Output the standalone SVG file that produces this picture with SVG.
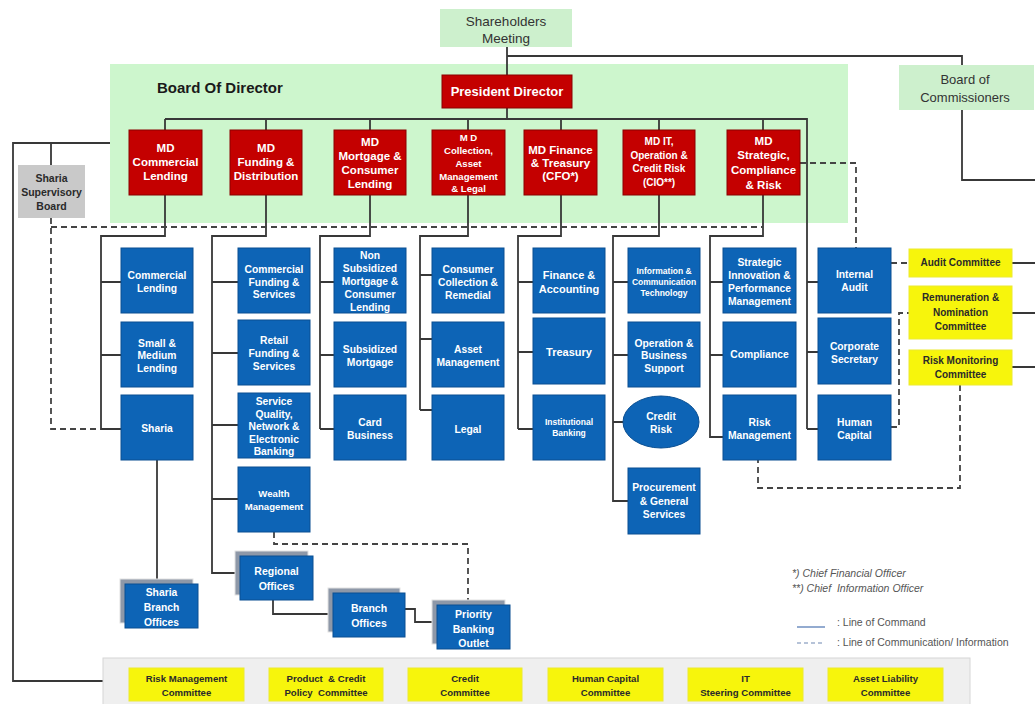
<svg xmlns="http://www.w3.org/2000/svg" width="1035" height="704" viewBox="0 0 1035 704">
<style>
.ln{stroke:#383838;stroke-width:1.8;fill:none}
.dl{stroke:#444;stroke-width:1.8;stroke-dasharray:6 4;fill:none}
.red{fill:#c40000;stroke:#8a0000;stroke-width:1}
.blue{fill:#0d64b6;stroke:#0a4f92;stroke-width:1}
.back{fill:#8e98a8;stroke:#e2e2e2;stroke-width:1}
.yel{fill:#f7f50c;stroke:#ecea30;stroke-width:1}
.tw{fill:#fff;font-family:"Liberation Sans",Arial,sans-serif;font-weight:bold;text-anchor:middle;font-size:10.3px}
.tr{fill:#fff;font-family:"Liberation Sans",Arial,sans-serif;font-weight:bold;text-anchor:middle;font-size:11.5px}
.tk{fill:#2a2a2a;font-family:"Liberation Sans",Arial,sans-serif;font-weight:bold;text-anchor:middle;font-size:9.6px}
.tg{fill:#333;font-family:"Liberation Sans",Arial,sans-serif;text-anchor:middle;font-size:13.5px}
.leg{fill:#555;font-family:"Liberation Sans",Arial,sans-serif;font-style:italic;font-size:10.5px}
</style>
<rect width="1035" height="704" fill="#ffffff"/>

<g id="board-area">
<rect x="110" y="64" width="738" height="159" fill="#cdf6cd"/>
<text x="157" y="93" style="font-family:'Liberation Sans',Arial,sans-serif;font-weight:bold;font-size:15px;fill:#1a1a1a">Board Of Director</text>
</g>

<g id="connectors">
<path class="ln" d="M507 47V75M507 56H962V65"/>
<path class="ln" d="M962 110V180H1035"/>
<path class="ln" d="M507 108V119M165 119H807V429"/>
<path class="ln" d="M165 119V130M266 119V130M370 119V130M468 119V130M561 119V130M659 119V130M763 119V130"/>
<path class="ln" d="M807 282H818M807 352H818M807 429H818"/>
<path class="ln" d="M165 195V236H101V429M101 282H121M101 355H121M101 429H121"/>
<path class="ln" d="M266 195V236H212V573H235M212 282H238M212 353H238M212 425H238M212 499H238"/>
<path class="ln" d="M370 195V236H320V429M320 282H334M320 355H334M320 429H334"/>
<path class="ln" d="M468 195V236H420V410M420 275H432M420 339H432M420 410H432"/>
<path class="ln" d="M561 195V236H518V429M518 282H533M518 352H533M518 429H533"/>
<path class="ln" d="M659 195V236H613V501H628M613 282H628M613 355H628M613 422H623"/>
<path class="ln" d="M763 195V236H710V437H723M710 282H723M710 355H723"/>
<path class="ln" d="M157 460V579"/>
<path class="ln" d="M273 600V614H328"/>
<path class="ln" d="M405 609H415V622H432"/>
<path class="ln" d="M110 143H13V681H103M51 143V165"/>
<path class="ln" d="M1012 263H1035M1012 313H1035M1012 367H1035"/>
<path class="dl" d="M51 218V429H101M51 227H763"/>
<path class="dl" d="M800 163H856V248"/>
<path class="dl" d="M891 263H909"/>
<path class="dl" d="M891 427H899V313H909"/>
<path class="dl" d="M960 385V488H758V460"/>
<path class="dl" d="M274 532V544H468V600"/>
</g>

<g id="shareholders">
<rect x="440" y="9" width="132" height="38" fill="#cdf0cd"/>
<text class="tg" x="506" y="26">Shareholders</text>
<text class="tg" x="506" y="43">Meeting</text>
</g>

<g id="commissioners">
<rect x="899" y="65" width="135" height="45" fill="#cdf0cd"/>
<text class="tg" x="965" y="84" style="font-size:13px">Board of</text>
<text class="tg" x="965" y="102" style="font-size:13px">Commissioners</text>
</g>

<g id="president">
<rect class="red" x="442" y="75" width="130" height="33"/>
<text class="tr" x="507" y="96" style="font-size:13px">President Director</text>
</g>

<g id="sharia-supervisory">
<rect x="18" y="165" width="67" height="53" fill="#c9c9c9"/>
<text class="tk" x="51.5" y="182" style="font-size:10.5px">Sharia</text>
<text class="tk" x="51.5" y="196" style="font-size:10.5px">Supervisory</text>
<text class="tk" x="51.5" y="210" style="font-size:10.5px">Board</text>
</g>

<g id="md-commercial">
<rect class="red" x="129" y="130" width="73" height="65"/>
<text class="tr" x="165.5" y="152">MD</text>
<text class="tr" x="165.5" y="166">Commercial</text>
<text class="tr" x="165.5" y="180">Lending</text>
</g>
<g id="md-funding">
<rect class="red" x="230" y="130" width="72" height="65"/>
<text class="tr" x="266" y="152">MD</text>
<text class="tr" x="266" y="166">Funding &amp;</text>
<text class="tr" x="266" y="180">Distribution</text>
</g>
<g id="md-mortgage">
<rect class="red" x="334" y="130" width="72" height="65"/>
<text class="tr" x="370" y="146">MD</text>
<text class="tr" x="370" y="160">Mortgage &amp;</text>
<text class="tr" x="370" y="174">Consumer</text>
<text class="tr" x="370" y="188">Lending</text>
</g>
<g id="md-collection">
<rect class="red" x="432" y="130" width="73" height="65"/>
<text class="tr" x="468.5" y="141" style="font-size:9.6px">M D</text>
<text class="tr" x="468.5" y="154" style="font-size:9.6px">Collection,</text>
<text class="tr" x="468.5" y="167" style="font-size:9.6px">Asset</text>
<text class="tr" x="468.5" y="180" style="font-size:9.6px">Management</text>
<text class="tr" x="468.5" y="192" style="font-size:9.6px">&amp; Legal</text>
</g>
<g id="md-finance">
<rect class="red" x="524" y="130" width="73" height="65"/>
<text class="tr" x="560.5" y="154">MD Finance</text>
<text class="tr" x="560.5" y="167">&amp; Treasury</text>
<text class="tr" x="560.5" y="180">(CFO*)</text>
</g>
<g id="md-it">
<rect class="red" x="623" y="130" width="72" height="65"/>
<text class="tr" x="659" y="145" style="font-size:10px">MD IT,</text>
<text class="tr" x="659" y="159" style="font-size:10px">Operation &amp;</text>
<text class="tr" x="659" y="172" style="font-size:10px">Credit Risk</text>
<text class="tr" x="659" y="186" style="font-size:10px">(CIO**)</text>
</g>
<g id="md-strategic">
<rect class="red" x="727" y="130" width="73" height="65"/>
<text class="tr" x="763.5" y="145">MD</text>
<text class="tr" x="763.5" y="159">Strategic,</text>
<text class="tr" x="763.5" y="174">Compliance</text>
<text class="tr" x="763.5" y="189">&amp; Risk</text>
</g>

<g id="commercial-lending">
<rect class="blue" x="121" y="248" width="72" height="65"/>
<text class="tw" x="157" y="279">Commercial</text>
<text class="tw" x="157" y="292">Lending</text>
</g>
<g id="small-medium-lending">
<rect class="blue" x="121" y="322" width="72" height="65"/>
<text class="tw" x="157" y="347">Small &amp;</text>
<text class="tw" x="157" y="359">Medium</text>
<text class="tw" x="157" y="372">Lending</text>
</g>
<g id="sharia">
<rect class="blue" x="121" y="395" width="72" height="65"/>
<text class="tw" x="157" y="432">Sharia</text>
</g>

<g id="commercial-funding">
<rect class="blue" x="238" y="248" width="72" height="65"/>
<text class="tw" x="274" y="273">Commercial</text>
<text class="tw" x="274" y="286">Funding &amp;</text>
<text class="tw" x="274" y="298">Services</text>
</g>
<g id="retail-funding">
<rect class="blue" x="238" y="320" width="72" height="65"/>
<text class="tw" x="274" y="344">Retail</text>
<text class="tw" x="274" y="357">Funding &amp;</text>
<text class="tw" x="274" y="370">Services</text>
</g>
<g id="service-quality">
<rect class="blue" x="238" y="393" width="72" height="65"/>
<text class="tw" x="274" y="405">Service</text>
<text class="tw" x="274" y="418">Quality,</text>
<text class="tw" x="274" y="430">Network &amp;</text>
<text class="tw" x="274" y="443">Electronic</text>
<text class="tw" x="274" y="455">Banking</text>
</g>
<g id="wealth-management">
<rect class="blue" x="238" y="467" width="72" height="65"/>
<text class="tw" x="274" y="497" style="font-size:9.6px">Wealth</text>
<text class="tw" x="274" y="510" style="font-size:9.6px">Management</text>
</g>

<g id="non-subsidized">
<rect class="blue" x="334" y="248" width="72" height="65"/>
<text class="tw" x="370" y="259">Non</text>
<text class="tw" x="370" y="272">Subsidized</text>
<text class="tw" x="370" y="285">Mortgage &amp;</text>
<text class="tw" x="370" y="298">Consumer</text>
<text class="tw" x="370" y="311">Lending</text>
</g>
<g id="subsidized-mortgage">
<rect class="blue" x="334" y="322" width="72" height="65"/>
<text class="tw" x="370" y="353">Subsidized</text>
<text class="tw" x="370" y="366">Mortgage</text>
</g>
<g id="card-business">
<rect class="blue" x="334" y="395" width="72" height="65"/>
<text class="tw" x="370" y="426">Card</text>
<text class="tw" x="370" y="439">Business</text>
</g>

<g id="consumer-collection">
<rect class="blue" x="432" y="248" width="72" height="65"/>
<text class="tw" x="468" y="273">Consumer</text>
<text class="tw" x="468" y="286">Collection &amp;</text>
<text class="tw" x="468" y="299">Remedial</text>
</g>
<g id="asset-management">
<rect class="blue" x="432" y="322" width="72" height="65"/>
<text class="tw" x="468" y="353">Asset</text>
<text class="tw" x="468" y="366">Management</text>
</g>
<g id="legal">
<rect class="blue" x="432" y="395" width="72" height="65"/>
<text class="tw" x="468" y="433">Legal</text>
</g>

<g id="finance-accounting">
<rect class="blue" x="533" y="248" width="72" height="65"/>
<text class="tw" x="569" y="279" style="font-size:11px">Finance &amp;</text>
<text class="tw" x="569" y="293" style="font-size:11px">Accounting</text>
</g>
<g id="treasury">
<rect class="blue" x="533" y="318" width="72" height="66"/>
<text class="tw" x="569" y="356" style="font-size:11px">Treasury</text>
</g>
<g id="institutional-banking">
<rect class="blue" x="533" y="395" width="72" height="65"/>
<text class="tw" x="569" y="425" style="font-size:8.5px">Institutional</text>
<text class="tw" x="569" y="436" style="font-size:8.5px">Banking</text>
</g>

<g id="ict">
<rect class="blue" x="628" y="248" width="72" height="65"/>
<text class="tw" x="664" y="274" style="font-size:8.5px">Information &amp;</text>
<text class="tw" x="664" y="285" style="font-size:8.5px">Communication</text>
<text class="tw" x="664" y="296" style="font-size:8.5px">Technology</text>
</g>
<g id="operation-support">
<rect class="blue" x="628" y="322" width="72" height="65"/>
<text class="tw" x="664" y="347">Operation &amp;</text>
<text class="tw" x="664" y="359">Business</text>
<text class="tw" x="664" y="372">Support</text>
</g>
<g id="credit-risk">
<ellipse class="blue" cx="661" cy="422" rx="38" ry="26"/>
<text class="tw" x="661" y="420">Credit</text>
<text class="tw" x="661" y="433">Risk</text>
</g>
<g id="procurement">
<rect class="blue" x="628" y="468" width="72" height="66"/>
<text class="tw" x="664" y="491">Procurement</text>
<text class="tw" x="664" y="505">&amp; General</text>
<text class="tw" x="664" y="518">Services</text>
</g>

<g id="strategic-innovation">
<rect class="blue" x="723" y="248" width="73" height="65"/>
<text class="tw" x="759.5" y="266">Strategic</text>
<text class="tw" x="759.5" y="279">Innovation &amp;</text>
<text class="tw" x="759.5" y="292">Performance</text>
<text class="tw" x="759.5" y="305">Management</text>
</g>
<g id="compliance">
<rect class="blue" x="723" y="322" width="73" height="65"/>
<text class="tw" x="759.5" y="358">Compliance</text>
</g>
<g id="risk-management">
<rect class="blue" x="723" y="395" width="73" height="65"/>
<text class="tw" x="759.5" y="426">Risk</text>
<text class="tw" x="759.5" y="439">Management</text>
</g>

<g id="internal-audit">
<rect class="blue" x="818" y="248" width="73" height="65"/>
<text class="tw" x="854.5" y="278">Internal</text>
<text class="tw" x="854.5" y="291">Audit</text>
</g>
<g id="corporate-secretary">
<rect class="blue" x="818" y="318" width="73" height="66"/>
<text class="tw" x="854.5" y="350">Corporate</text>
<text class="tw" x="854.5" y="363">Secretary</text>
</g>
<g id="human-capital">
<rect class="blue" x="818" y="395" width="73" height="65"/>
<text class="tw" x="854.5" y="426">Human</text>
<text class="tw" x="854.5" y="439">Capital</text>
</g>

<g id="audit-committee">
<rect class="yel" x="909" y="249" width="103" height="28"/>
<text class="tk" x="960.5" y="266" style="font-size:10px">Audit Committee</text>
</g>
<g id="remuneration-committee">
<rect class="yel" x="909" y="286" width="103" height="53"/>
<text class="tk" x="960.5" y="301" style="font-size:10px">Remuneration &amp;</text>
<text class="tk" x="960.5" y="316" style="font-size:10px">Nomination</text>
<text class="tk" x="960.5" y="330" style="font-size:10px">Committee</text>
</g>
<g id="risk-monitoring-committee">
<rect class="yel" x="909" y="350" width="103" height="35"/>
<text class="tk" x="960.5" y="364" style="font-size:10px">Risk Monitoring</text>
<text class="tk" x="960.5" y="378" style="font-size:10px">Committee</text>
</g>

<g id="sharia-branch-offices">
<rect class="back" x="120" y="579" width="73" height="44"/>
<rect class="blue" x="125" y="584" width="73" height="44"/>
<text class="tw" x="161.5" y="596">Sharia</text>
<text class="tw" x="161.5" y="611">Branch</text>
<text class="tw" x="161.5" y="626">Offices</text>
</g>
<g id="regional-offices">
<rect class="back" x="235" y="551" width="73" height="44"/>
<rect class="blue" x="240" y="556" width="73" height="44"/>
<text class="tw" x="276.5" y="575" style="font-size:10.5px">Regional</text>
<text class="tw" x="276.5" y="590" style="font-size:10.5px">Offices</text>
</g>
<g id="branch-offices">
<rect class="back" x="328" y="588" width="72" height="44"/>
<rect class="blue" x="333" y="593" width="72" height="44"/>
<text class="tw" x="369" y="612" style="font-size:10.5px">Branch</text>
<text class="tw" x="369" y="627" style="font-size:10.5px">Offices</text>
</g>
<g id="priority-banking">
<rect class="back" x="432" y="600" width="73" height="44"/>
<rect class="blue" x="437" y="605" width="73" height="44"/>
<text class="tw" x="473.5" y="618" style="font-size:10.5px">Priority</text>
<text class="tw" x="473.5" y="633" style="font-size:10.5px">Banking</text>
<text class="tw" x="473.5" y="647" style="font-size:10.5px">Outlet</text>
</g>

<g id="legend">
<text class="leg" x="792" y="577">*) Chief Financial Officer</text>
<text class="leg" x="792" y="592">**) Chief&#160; Information Officer</text>
<line x1="797" y1="627" x2="825" y2="627" stroke="#6f8fc0" stroke-width="1.5"/>
<line x1="797" y1="643" x2="825" y2="643" stroke="#9fb0cc" stroke-width="1.5" stroke-dasharray="4 3"/>
<text class="leg" x="837" y="626" style="font-style:normal">: Line of Command</text>
<text class="leg" x="837" y="646" style="font-style:normal">: Line of Communication/ Information</text>
</g>

<g id="bottom-committees">
<rect x="103" y="658" width="867" height="50" fill="#efefef" stroke="#d6d6d6"/>
</g>
<g id="risk-management-committee">
<rect class="yel" x="129" y="668" width="115" height="33"/>
<text class="tk" x="186.5" y="682">Risk Management</text>
<text class="tk" x="186.5" y="696">Committee</text>
</g>
<g id="product-credit-committee">
<rect class="yel" x="269" y="668" width="114" height="33"/>
<text class="tk" x="326" y="682">Product&#160; &amp; Credit</text>
<text class="tk" x="326" y="696">Policy&#160; Committee</text>
</g>
<g id="credit-committee">
<rect class="yel" x="408" y="668" width="114" height="33"/>
<text class="tk" x="465" y="682">Credit</text>
<text class="tk" x="465" y="696">Committee</text>
</g>
<g id="human-capital-committee">
<rect class="yel" x="548" y="668" width="115" height="33"/>
<text class="tk" x="605.5" y="682">Human Capital</text>
<text class="tk" x="605.5" y="696">Committee</text>
</g>
<g id="it-steering-committee">
<rect class="yel" x="688" y="668" width="115" height="33"/>
<text class="tk" x="745.5" y="682">IT</text>
<text class="tk" x="745.5" y="696">Steering Committee</text>
</g>
<g id="alco">
<rect class="yel" x="828" y="668" width="115" height="33"/>
<text class="tk" x="885.5" y="682">Asset Liability</text>
<text class="tk" x="885.5" y="696">Committee</text>
</g>
</svg>
